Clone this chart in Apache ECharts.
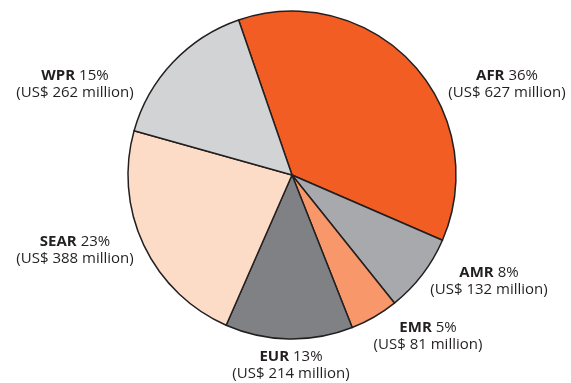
<!DOCTYPE html>
<html>
<head>
<meta charset="utf-8">
<script src="https://cdn.jsdelivr.net/npm/echarts@6/dist/echarts.min.js"></script>
<style>
  html, body { margin: 0; padding: 0; background: #ffffff; }
  #chart { width: 571px; height: 383px; }
</style>
</head>
<body>
<div id="chart"></div>
<script>
// WHO regions and funding (US$ million), clockwise from AFR
var regions = ['AFR', 'AMR', 'EMR', 'EUR', 'SEAR', 'WPR'];
var amounts = [627, 132, 81, 214, 388, 262];
var percents = [36, 8, 5, 13, 23, 15];

var sliceColors = ['#f15d22', '#a7a9ac', '#f7976a', '#808184', '#fddcc7', '#d1d3d4'];
// label anchor points (centre of the two-line label)
var labelAnchors = [[507, 84], [489, 281], [428, 336], [291, 365], [75, 250], [75, 84]];

var chart = echarts.init(document.getElementById('chart'), null, { renderer: 'canvas' });

var data = regions.map(function (r, i) {
  return {
    name: r,
    value: amounts[i],
    itemStyle: { color: sliceColors[i] }
  };
});

chart.setOption({
  animation: false,
  series: [{
    type: 'pie',
    center: [292, 175],
    radius: 164,
    startAngle: 109,
    clockwise: true,
    data: data,
    itemStyle: { borderColor: '#231f20', borderWidth: 1.5 },
    emphasis: { disabled: true },
    labelLine: { show: false },
    label: {
      show: true,
      position: 'outside',
      align: 'center',
      overflow: 'none',
      formatter: function (p) {
        return '{b|' + p.name + '} ' + percents[p.dataIndex] + '%\n(US$ ' + p.value + ' million)';
      },
      fontFamily: 'Open Sans',
      fontSize: 15,
      lineHeight: 17,
      color: '#231f20',
      rich: {
        b: { fontWeight: 'bold', fontFamily: 'Open Sans', fontSize: 15, color: '#231f20', lineHeight: 17 }
      }
    },
    labelLayout: function (params) {
      var a = labelAnchors[params.dataIndex];
      return { x: a[0], y: a[1], align: 'center', verticalAlign: 'middle' };
    }
  }]
});
</script>
</body>
</html>
